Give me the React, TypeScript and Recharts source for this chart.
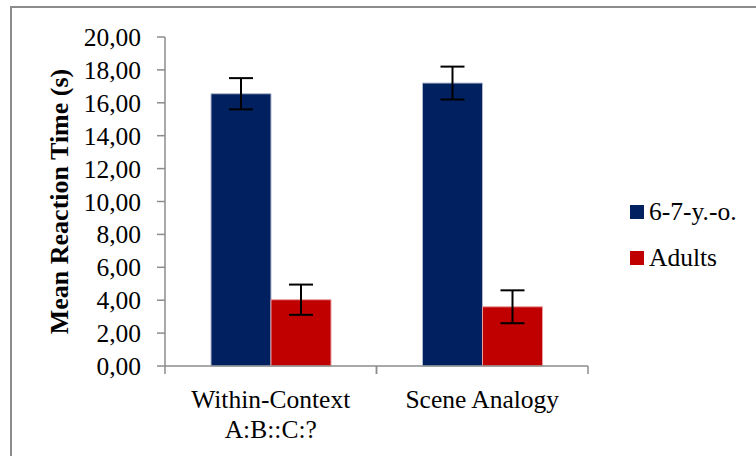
import React from 'react';
import { BarChart, Bar, XAxis, YAxis, ErrorBar, Legend, Label } from 'recharts';

const categories: string[][] = [['Within-Context', 'A:B::C:?'], ['Scene Analogy']];
const kidsMeans = [16.55, 17.2];
const kidsErr = [0.95, 1.0];
const adultMeans = [4.03, 3.6];
const adultErr = [0.92, 1.0];
const yTicks = [0, 2, 4, 6, 8, 10, 12, 14, 16, 18, 20];
const seriesNames = ['6-7-y.-o.', 'Adults'];
const seriesColors = ['#002060', '#C00000'];

const data = categories.map((lines, i) => ({
  name: lines.join(' '),
  lines,
  kids: kidsMeans[i],
  kidsErr: kidsErr[i],
  adults: adultMeans[i],
  adultsErr: adultErr[i],
}));

const FONT = 'Liberation Serif';
const AXIS_COLOR = '#8c8c8c';

const W = 756;
const H = 456;
const MARGIN = { top: 37, right: 168, bottom: 0, left: 0 };
const Y_WIDTH = 165;
const PLOT_W = W - MARGIN.right - MARGIN.left - Y_WIDTH;
const HALF_BAND = PLOT_W / categories.length / 2;

const XTick = (props: any) => {
  const { x, y, payload, index } = props;
  const lines: string[] = data[index]?.lines ?? [String(payload.value)];
  return (
    <g>
      <line x1={x - HALF_BAND} x2={x - HALF_BAND} y1={y} y2={y + 8} stroke={AXIS_COLOR} strokeWidth={1.5} />
      <line x1={x + HALF_BAND} x2={x + HALF_BAND} y1={y} y2={y + 8} stroke={AXIS_COLOR} strokeWidth={1.5} />
      {lines.map((l, k) => (
        <text key={k} x={x} y={y + 42 + k * 30} textAnchor="middle" style={{ fontFamily: FONT }} fontSize={25.5} fill="#000">
          {l}
        </text>
      ))}
    </g>
  );
};

const YTick = (props: any) => {
  const { x, y, payload } = props;
  return (
    <text x={x} y={y} dy={9} textAnchor="end" style={{ fontFamily: FONT }} fontSize={25.5} fill="#000">
      {Number(payload.value).toFixed(2).replace('.', ',')}
    </text>
  );
};

const LegendContent = () => (
  <div style={{ fontFamily: FONT, fontSize: 25.5, color: '#000' }}>
    {seriesNames.map((n, i) => (
      <div key={n} style={{ display: 'flex', alignItems: 'center', height: 46 }}>
        <span style={{ display: 'inline-block', width: 14, height: 14, background: seriesColors[i], marginRight: 5 }} />
        <span style={{ fontFamily: FONT }}>{n}</span>
      </div>
    ))}
  </div>
);

export default function App() {
  return (
    <div style={{ position: 'absolute', left: 0, top: 0, width: W, height: H, overflow: 'hidden', background: '#fff', fontFamily: FONT }}>
      <div
        style={{
          position: 'absolute',
          left: 10,
          top: 6,
          width: 900,
          height: 600,
          borderTop: `2px solid ${AXIS_COLOR}`,
          borderLeft: `2px solid ${AXIS_COLOR}`,
        }}
      />
      <div style={{ position: 'absolute', left: 0, top: 0 }}>
        <BarChart width={W} height={H} data={data} margin={MARGIN} barSize={60} barGap={0} style={{ fontFamily: FONT }}>
          <XAxis
            dataKey="name"
            height={90}
            tickSize={0}
            tickMargin={0}
            tickLine={false}
            axisLine={{ stroke: AXIS_COLOR, strokeWidth: 1.5 }}
            tick={<XTick />}
            interval={0}
          />
          <YAxis
            width={Y_WIDTH}
            domain={[0, 20]}
            ticks={yTicks}
            interval={0}
            tickSize={8}
            tickMargin={16}
            tick={<YTick />}
            axisLine={{ stroke: AXIS_COLOR, strokeWidth: 1.5 }}
            tickLine={{ stroke: AXIS_COLOR, strokeWidth: 1.5 }}
          >
            <Label
              content={(p: any) => {
                const vb = p.viewBox;
                const cx = 68;
                const cy = vb.y + vb.height / 2;
                return (
                  <text
                    x={cx}
                    y={cy}
                    transform={`rotate(-90, ${cx}, ${cy})`}
                    textAnchor="middle"
                    style={{ fontFamily: FONT }}
                    fontWeight="bold"
                    fontSize={26}
                    fill="#000"
                  >
                    Mean Reaction Time (s)
                  </text>
                );
              }}
            />
          </YAxis>
          <Legend
            layout="vertical"
            align="center"
            verticalAlign="middle"
            content={<LegendContent />}
            wrapperStyle={{ left: 630, top: 189, width: 126 }}
          />
          <Bar dataKey="kids" name={seriesNames[0]} fill={seriesColors[0]} stroke="#b0b8d0" strokeWidth={1} isAnimationActive={false}>
            <ErrorBar dataKey="kidsErr" width={12} stroke="#000" strokeWidth={2} />
          </Bar>
          <Bar dataKey="adults" name={seriesNames[1]} fill={seriesColors[1]} stroke="#e8a0a0" strokeWidth={1} isAnimationActive={false}>
            <ErrorBar dataKey="adultsErr" width={12} stroke="#000" strokeWidth={2} />
          </Bar>
        </BarChart>
      </div>
    </div>
  );
}
